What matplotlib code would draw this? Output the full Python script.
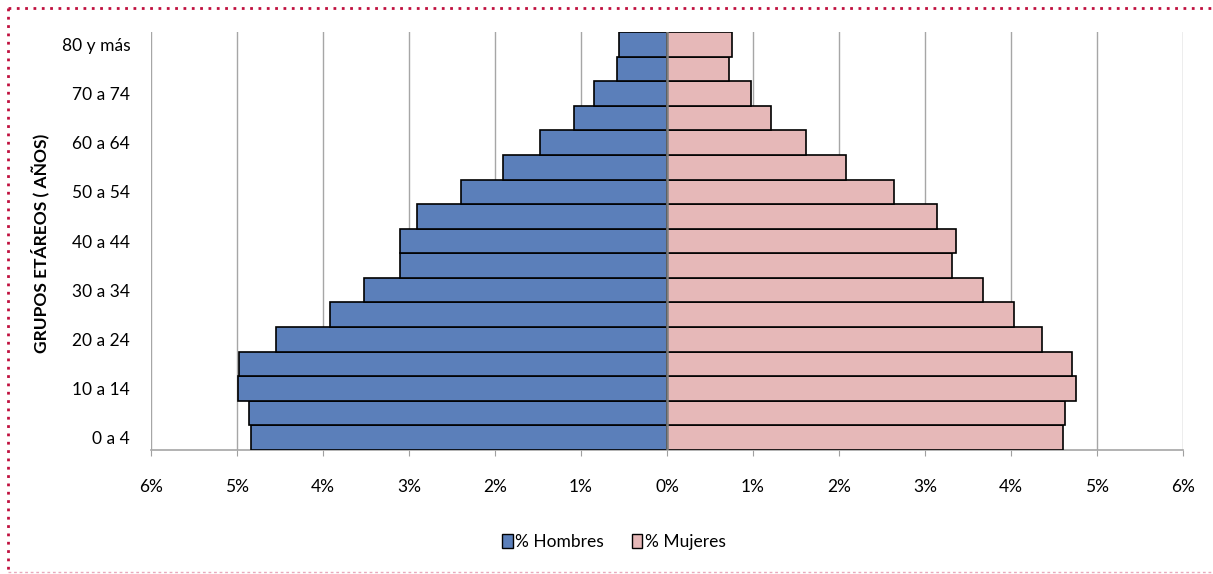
import numpy as np
import matplotlib.pyplot as plt
from matplotlib.lines import Line2D
from matplotlib.patches import Patch

plt.rcParams['font.family'] = ['Lato', 'DejaVu Sans']

# grupos de edad, de abajo hacia arriba
grupos = ['0 a 4', '5 a 9', '10 a 14', '15 a 19', '20 a 24', '25 a 29',
          '30 a 34', '35 a 39', '40 a 44', '45 a 49', '50 a 54', '55 a 59',
          '60 a 64', '65 a 69', '70 a 74', '75 a 79', '80 y más']
hombres = [4.84, 4.86, 4.99, 4.98, 4.55, 3.92, 3.52, 3.11, 3.11, 2.91,
           2.40, 1.91, 1.48, 1.08, 0.85, 0.58, 0.56]
mujeres = [4.60, 4.63, 4.75, 4.71, 4.36, 4.03, 3.68, 3.31, 3.36, 3.14,
           2.64, 2.08, 1.62, 1.21, 0.98, 0.72, 0.75]
xticks = [-6, -5, -4, -3, -2, -1, 0, 1, 2, 3, 4, 5, 6]

azul = '#5B7FBA'
rosa = '#E6B8B8'

fig = plt.figure(figsize=(12.13, 5.74), dpi=100)
ax = fig.add_axes([151/1213, 1-450/574, 1032/1213, 418/574])

y = np.arange(len(grupos))
ax.barh(y, -np.array(hombres), height=1.0, color=azul, edgecolor='black', linewidth=1.2, zorder=3)
ax.barh(y, mujeres, height=1.0, color=rosa, edgecolor='black', linewidth=1.2, zorder=3)
ax.axvline(0, color='#7F7F7F', lw=1.8, zorder=4)

ax.set_xlim(-6, 6)
ax.set_ylim(-0.5, len(grupos)-0.5)
ax.set_xticks(xticks)
ax.set_xticklabels([f'{abs(v)}%' for v in xticks], fontsize=12.5)
ax.set_yticks(y[::2])
ax.set_yticklabels(grupos[::2], fontsize=12.5)
ax.tick_params(axis='y', length=0, pad=15)
ax.tick_params(axis='x', length=4, color='#A0A0A0', pad=17)
ax.grid(axis='x', color='#A6A6A6', lw=1.0, zorder=0)
for s in ['top', 'right', 'left']:
    ax.spines[s].set_visible(False)
ax.spines['bottom'].set_color('#A6A6A6')
ax.spines['bottom'].set_linewidth(1.2)

fig.text(40/1213, 1-243/574, 'GRUPOS ETÁREOS ( AÑOS)', rotation=90, fontsize=12.5,
         fontweight='bold', ha='center', va='center')

handles = [Patch(facecolor=azul, edgecolor='black', label='% Hombres'),
           Patch(facecolor=rosa, edgecolor='black', label='% Mujeres')]
fig.legend(handles=handles, loc='center', bbox_to_anchor=(614/1213, 1-542/574), ncol=2,
           frameon=False, fontsize=12.5, handlelength=0.6, handleheight=0.9,
           handletextpad=0.15, columnspacing=1.6)

# marco punteado
fig.add_artist(Line2D([8/1213, 1], [1-8/574, 1-8/574], transform=fig.transFigure,
                      color='#C0103F', lw=2, ls=(0, (1, 2))))
fig.add_artist(Line2D([8/1213, 8/1213], [1-8/574, 1-572/574], transform=fig.transFigure,
                      color='#C0103F', lw=2, ls=(0, (1, 2))))
fig.add_artist(Line2D([8/1213, 1], [1-572/574, 1-572/574], transform=fig.transFigure,
                      color='#E8A9BC', lw=1, ls=(0, (2, 2))))

fig.savefig('out.png', dpi=100)
